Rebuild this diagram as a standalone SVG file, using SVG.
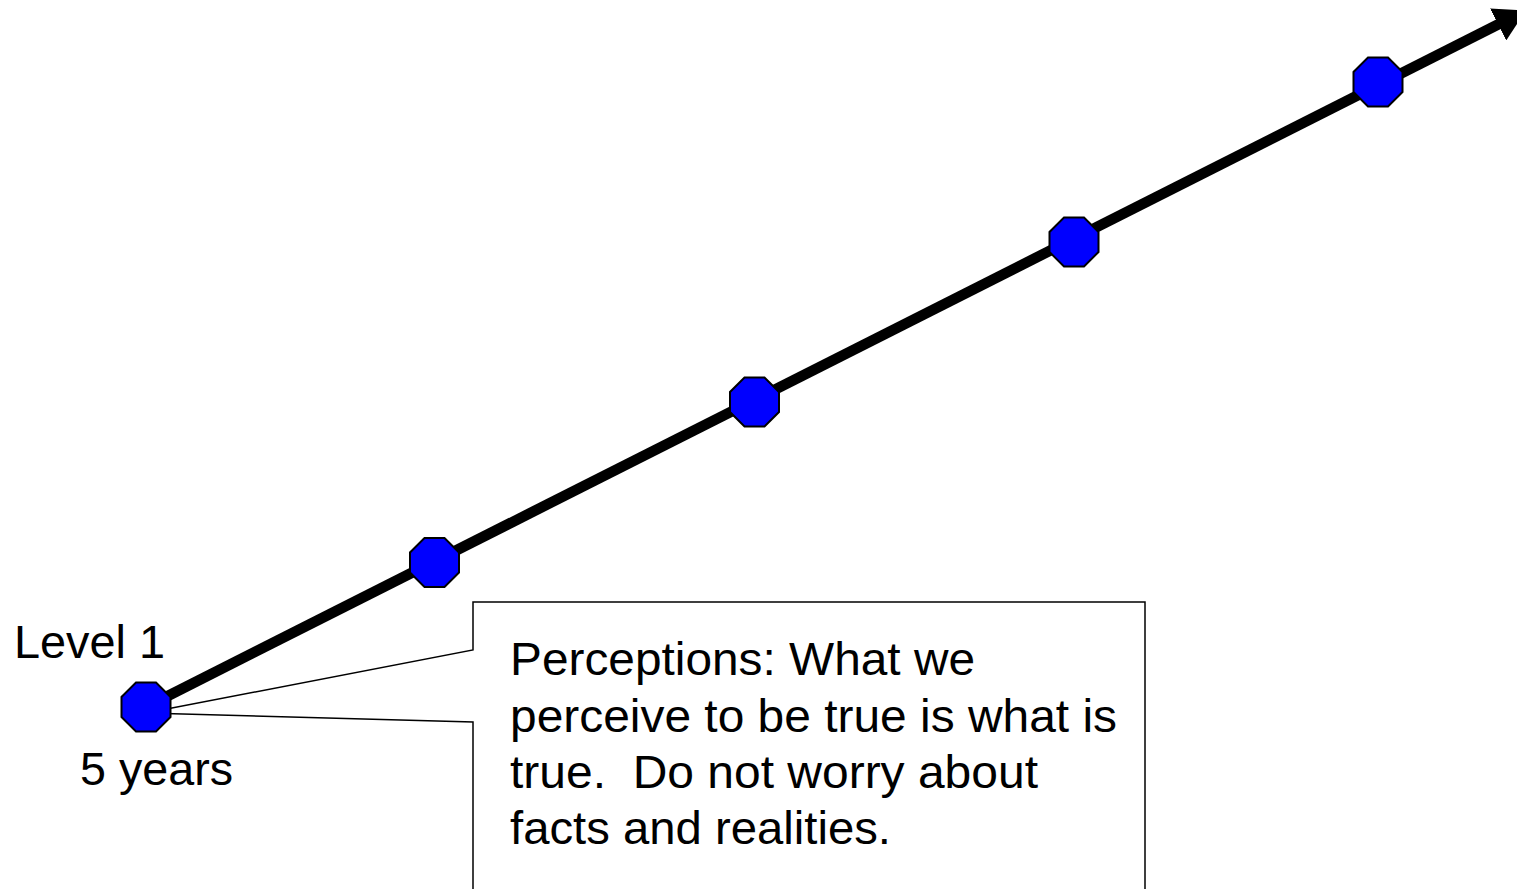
<svg xmlns="http://www.w3.org/2000/svg" width="1517" height="889" viewBox="0 0 1517 889">
<style>
.oct{fill:#0000ff;stroke:#000;stroke-width:2}
.t{font-family:"Liberation Sans",Arial,sans-serif;font-size:46px;fill:#000;white-space:pre}
</style>
<defs>
<marker id="ah" markerUnits="userSpaceOnUse" viewBox="0 -18 31 36" markerWidth="31" markerHeight="36" refX="1" refY="0" orient="auto">
<path d="M0,-18 L31,0 L0,18 Z" fill="#000"/>
</marker>
<polygon id="o" points="-10,-24.5 10,-24.5 24.5,-10 24.5,10 10,24.5 -10,24.5 -24.5,10 -24.5,-10"/>
</defs>
<rect width="1517" height="889" fill="#fff"/>
<g id="connectors">
<line x1="146" y1="707" x2="1499" y2="24" stroke="#000" stroke-width="10.5" marker-end="url(#ah)"/>
</g>
<g id="callout">
<path d="M473,889 L473,722 L146,713 L473,650 L473,602 L1145,602 L1145,889" fill="#fff" stroke="#000" stroke-width="1.5"/>
<text class="t" x="510" y="675" textLength="465" lengthAdjust="spacingAndGlyphs">Perceptions: What we</text>
<text class="t" x="510" y="732" textLength="607" lengthAdjust="spacingAndGlyphs">perceive to be true is what is</text>
<text class="t" x="510" y="788" textLength="528" lengthAdjust="spacingAndGlyphs" xml:space="preserve">true.  Do not worry about</text>
<text class="t" x="510" y="844" textLength="381" lengthAdjust="spacingAndGlyphs">facts and realities.</text>
</g>
<g id="node1"><use href="#o" class="oct" x="146" y="707"/></g>
<g id="node2"><use href="#o" class="oct" x="434.5" y="562.5"/></g>
<g id="node3"><use href="#o" class="oct" x="754.5" y="402"/></g>
<g id="node4"><use href="#o" class="oct" x="1074" y="242"/></g>
<g id="node5"><use href="#o" class="oct" x="1378" y="82"/></g>
<text class="t" x="14" y="658" textLength="151" lengthAdjust="spacingAndGlyphs">Level 1</text>
<text class="t" x="80" y="785" textLength="153" lengthAdjust="spacingAndGlyphs">5 years</text>
</svg>
